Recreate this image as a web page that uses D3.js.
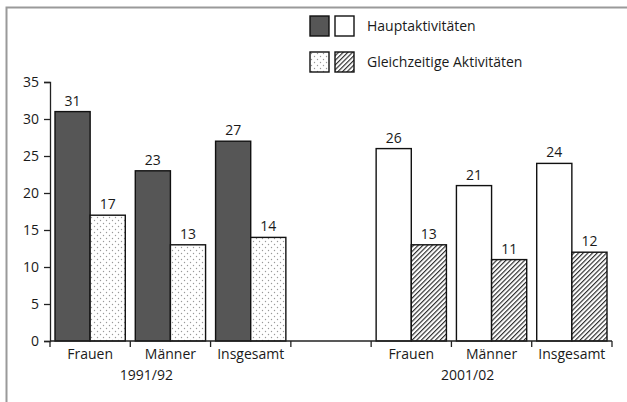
<!DOCTYPE html>
<html lang="de">
<head>
<meta charset="utf-8">
<script src="https://d3js.org/d3.v7.min.js"></script>
<style>
    body { margin: 0; background: #fff; }
    svg text { font-family: "Open Sans", "Noto Sans", sans-serif; fill: #1a1a1a; }
</style>
</head>
<body>
<svg width="627" height="402"></svg>
<script>
var groups = ["1991/92", "2001/02"];
var categories = ["Frauen", "Männer", "Insgesamt"];
var haupt = [[31, 23, 27], [26, 21, 24]];
var gleich = [[17, 13, 14], [13, 11, 12]];
var yTicks = [0, 5, 10, 15, 20, 25, 30, 35];
var legendLabels = ["Hauptaktivitäten", "Gleichzeitige Aktivitäten"];

var svg = d3.select("svg");

// frame
svg.append("path")
    .attr("d", "M6.5,402 V7.5 H627")
    .attr("fill", "none")
    .attr("stroke", "#9a9a9a")
    .attr("stroke-width", 2);

var defs = svg.append("defs");
var dots = defs.append("pattern").attr("id", "dots")
    .attr("patternUnits", "userSpaceOnUse")
    .attr("width", 6).attr("height", 6);
dots.append("rect").attr("width", 6).attr("height", 6).attr("fill", "#fff");
dots.append("circle").attr("cx", 1.5).attr("cy", 1.5).attr("r", 0.7).attr("fill", "#999");
dots.append("circle").attr("cx", 4.5).attr("cy", 4.5).attr("r", 0.7).attr("fill", "#999");

var hatch = defs.append("pattern").attr("id", "hatch")
    .attr("patternUnits", "userSpaceOnUse")
    .attr("width", 3.3).attr("height", 3.3)
    .attr("patternTransform", "rotate(45)");
hatch.append("rect").attr("width", 3.3).attr("height", 3.3).attr("fill", "#fff");
hatch.append("line").attr("x1", 0.6).attr("y1", 0).attr("x2", 0.6).attr("y2", 3.3)
    .attr("stroke", "#222").attr("stroke-width", 1.1);

// slots: 3 categories, an empty slot, 3 categories
var slots = [];
groups.forEach((g, gi) => {
    categories.forEach((c, ci) => slots.push({ key: gi + "-" + c, g: gi, c: ci, label: c }));
    if (gi === 0) slots.push({ key: "gap", gap: true });
});

var x = d3.scaleBand().domain(slots.map(d => d.key)).range([50, 612]);
var inner = d3.scaleBand().domain([0, 1]).range([5, x.bandwidth() - 5]);
var y = d3.scaleLinear().domain([0, 35]).range([341, 82]);

var fills = [["#565656", "url(#dots)"], ["#fff", "url(#hatch)"]];

var bars = [];
slots.filter(d => !d.gap).forEach(d => {
    bars.push({ slot: d.key, s: 0, g: d.g, v: haupt[d.g][d.c] });
    bars.push({ slot: d.key, s: 1, g: d.g, v: gleich[d.g][d.c] });
});

svg.append("g").selectAll("rect").data(bars).enter().append("rect")
    .attr("x", d => x(d.slot) + inner(d.s))
    .attr("width", inner.bandwidth())
    .attr("y", d => y(d.v))
    .attr("height", d => y(0) - y(d.v))
    .attr("fill", d => fills[d.g][d.s])
    .attr("stroke", "#111")
    .attr("stroke-width", 1.4);

svg.append("g").selectAll("text").data(bars).enter().append("text")
    .attr("x", d => x(d.slot) + inner(d.s) + inner.bandwidth() / 2)
    .attr("y", d => y(d.v) - 6)
    .attr("text-anchor", "middle")
    .attr("font-size", 14)
    .text(d => d.v);

// y axis
var yAxis = svg.append("g").attr("transform", "translate(50,0)")
    .call(d3.axisLeft(y).tickValues(yTicks).tickSize(6).tickPadding(5));
yAxis.selectAll("text").attr("font-size", 14).attr("font-family", null);
yAxis.selectAll("path, line").attr("stroke", "#222").attr("stroke-width", 1.3);

// x axis: boundaries between slots
var bounds = x.domain().map(k => x(k)).concat([x.range()[1]]);
var xAxis = svg.append("g");
xAxis.append("line")
    .attr("x1", 50).attr("x2", x.range()[1])
    .attr("y1", y(0)).attr("y2", y(0))
    .attr("stroke", "#222").attr("stroke-width", 1.3);
xAxis.selectAll(".tk").data(bounds).enter().append("line")
    .attr("x1", d => d).attr("x2", d => d)
    .attr("y1", y(0)).attr("y2", y(0) + 6)
    .attr("stroke", "#222").attr("stroke-width", 1.3);

svg.append("g").selectAll("text").data(slots.filter(d => !d.gap)).enter().append("text")
    .attr("x", d => x(d.key) + x.bandwidth() / 2)
    .attr("y", 359)
    .attr("text-anchor", "middle")
    .attr("font-size", 14)
    .text(d => d.label);

svg.append("g").selectAll("text").data(groups).enter().append("text")
    .attr("x", (d, i) => x(i + "-Männer") + x.bandwidth() / 2 - 24)
    .attr("y", 380)
    .attr("text-anchor", "middle")
    .attr("font-size", 14)
    .text(d => d);

// legend
var legend = svg.append("g").attr("transform", "translate(310,16)");
legendLabels.forEach((lab, i) => {
    var row = legend.append("g").attr("transform", "translate(0," + (i * 36) + ")");
    [0, 1].forEach(gi => {
        row.append("rect")
            .attr("x", gi * 25).attr("y", 0)
            .attr("width", 19).attr("height", 20)
            .attr("fill", fills[gi][i])
            .attr("stroke", "#111").attr("stroke-width", 1.4);
    });
    row.append("text")
        .attr("x", 57).attr("y", 15)
        .attr("font-size", 14)
        .text(lab);
});
</script>
</body>
</html>
